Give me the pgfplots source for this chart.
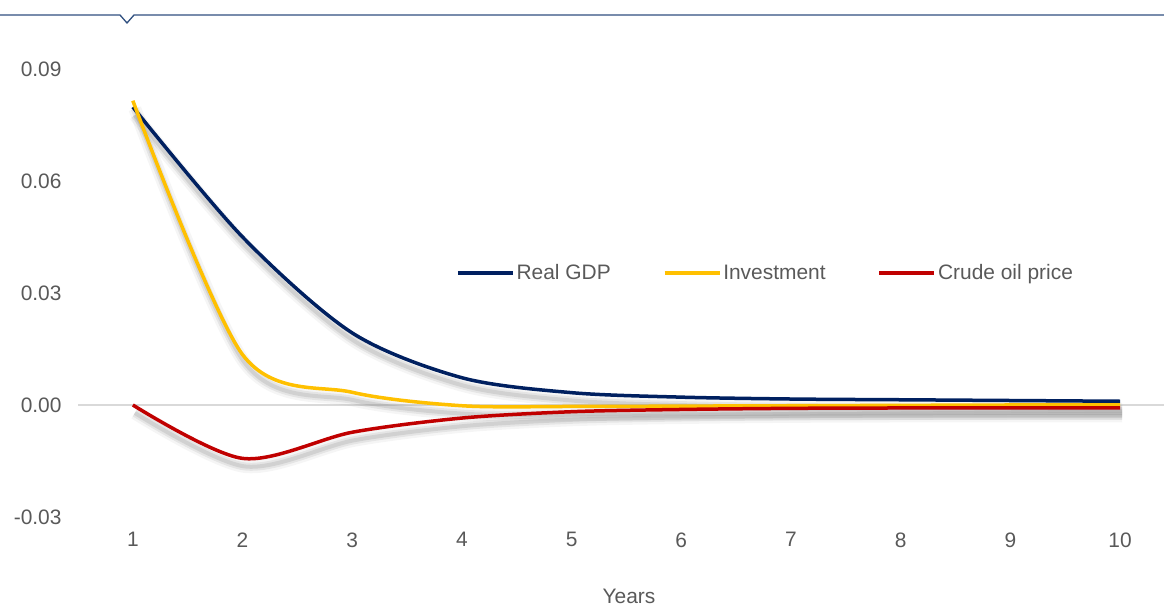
\documentclass[border=0pt]{standalone}
\usepackage{fontspec}
\setmainfont{Liberation Sans}
\usepackage{pgfplots}
\usepackage{pgfplotstable}
\pgfplotsset{compat=1.18}

\definecolor{gdpblue}{HTML}{002060}
\definecolor{invyellow}{HTML}{FFC000}
\definecolor{oilred}{HTML}{C00000}
\definecolor{labelgray}{HTML}{595959}
\definecolor{zerogray}{HTML}{D9D9D9}
\definecolor{topblue}{HTML}{2F4F7F}

\pgfplotstableread{
x y
1 0.0798
2 0.0450
3 0.0193
4 0.0073
5 0.0033
6 0.0021
7 0.0016
8 0.0014
9 0.0012
10 0.0010
}\gdp
\pgfplotstableread{
x y
1 0.0815
2 0.0135
3 0.0034
4 -0.0002
5 -0.0004
6 -0.0003
7 -0.0002
8 -0.0001
9 0.0000
10 0.0000
}\invest
\pgfplotstableread{
x y
1 0.0000
2 -0.0143
3 -0.0073
4 -0.0035
5 -0.0018
6 -0.0012
7 -0.0009
8 -0.0008
9 -0.0008
10 -0.0008
}\oil

\newcommand{\lblfont}{\fontsize{21}{25}\selectfont}
\pgfplotsset{
  shadowA/.style={gray, line width=13bp, opacity=0.08, smooth, xshift=2bp, yshift=-8bp, forget plot},
  shadowB/.style={gray, line width=8bp, opacity=0.14, smooth, xshift=2bp, yshift=-8bp, forget plot},
  shadowC/.style={gray, line width=4bp, opacity=0.2, smooth, xshift=2bp, yshift=-8bp, forget plot},
}

\begin{document}
\begin{tikzpicture}[x=1bp,y=1bp]
\useasboundingbox (0,0) rectangle (1164,609);
% top rule with notch
\draw[topblue, line width=1.3bp] (0,594) -- (120,594) -- (127,586) -- (134,594) -- (1164,594);

\begin{axis}[
  at={(78bp,92bp)}, anchor=south west,
  scale only axis, width=1086bp, height=448bp,
  xmin=0.5, xmax=10.4, ymin=-0.03, ymax=0.09,
  axis line style={draw=none},
  major tick length=0pt,
  xtick={1,...,10},
  xticklabels={1,2,3,4,5,6,7,8,9,10},
  ytick={-0.03,0,0.03,0.06,0.09},
  yticklabels={-0.03,0.00,0.03,0.06,0.09},
  scaled y ticks=false,
  extra y ticks={0},
  extra y tick labels={},
  extra y tick style={grid=major, major grid style={zerogray, line width=2bp}},
  every tick label/.append style={font=\lblfont, text=labelgray},
  yticklabel style={xshift=-13bp},
  xticklabel style={yshift=-12bp},
  legend columns=3,
  legend style={at={(0.348,0.5446)}, anchor=west, draw=none, fill=none,
    font=\lblfont, text=labelgray, inner sep=0pt,
    /tikz/every even column/.append style={column sep=50bp}},
  legend image code/.code={\draw[#1] (0bp,0bp) -- (55bp,0bp);},
  clip=false,
]
% soft shadows
\addplot[shadowA] table {\gdp};
\addplot[shadowB] table {\gdp};
\addplot[shadowC] table {\gdp};
\addplot[shadowA] table {\invest};
\addplot[shadowB] table {\invest};
\addplot[shadowC] table {\invest};
\addplot[shadowA] table {\oil};
\addplot[shadowB] table {\oil};
\addplot[shadowC] table {\oil};

\addplot[gdpblue, line width=3.5bp, smooth] table {\gdp};
\addlegendentry{Real GDP}
\addplot[invyellow, line width=3.5bp, smooth] table {\invest};
\addlegendentry{Investment}
\addplot[oilred, line width=3.5bp, smooth] table {\oil};
\addlegendentry{Crude oil price}
\end{axis}

\node[anchor=base, font=\lblfont, text=labelgray] at (629,5) {Years};
\end{tikzpicture}
\end{document}
